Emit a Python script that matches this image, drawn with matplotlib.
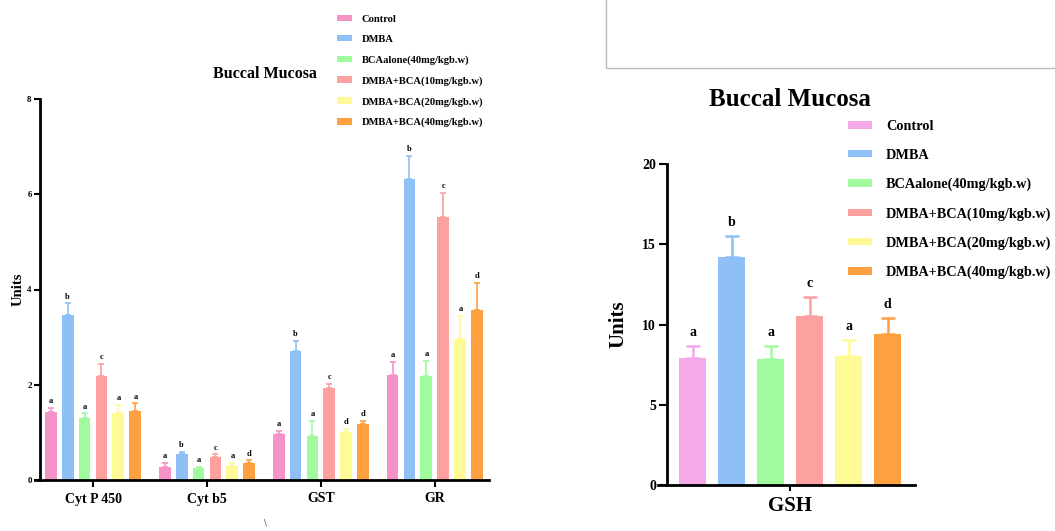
import numpy as np
import matplotlib
matplotlib.use('Agg')
import matplotlib.pyplot as plt
from matplotlib.patches import Patch
from matplotlib.lines import Line2D

# ---- data ----
groups = ['Control', 'DMBA', 'BCAalone(40mg/kgb.w)', 'DMBA+BCA(10mg/kgb.w)',
          'DMBA+BCA(20mg/kgb.w)', 'DMBA+BCA(40mg/kgb.w)']
enzymes = ['Cyt P 450', 'Cyt b5', 'GST', 'GR']
# rows = enzyme, cols = group
enz_mean = [[1.42, 3.46, 1.31, 2.19, 1.40, 1.45],
            [0.27, 0.54, 0.25, 0.49, 0.29, 0.35],
            [0.96, 2.71, 0.93, 1.94, 1.01, 1.17],
            [2.20, 6.32, 2.18, 5.53, 2.97, 3.58]]
enz_err = [[0.10, 0.25, 0.09, 0.25, 0.17, 0.16],
           [0.09, 0.05, 0.03, 0.05, 0.07, 0.06],
           [0.07, 0.21, 0.31, 0.07, 0.07, 0.07],
           [0.28, 0.49, 0.32, 0.50, 0.47, 0.56]]
enz_letters = [['a', 'b', 'a', 'c', 'a', 'a'],
               ['a', 'b', 'a', 'c', 'a', 'd'],
               ['a', 'b', 'a', 'c', 'd', 'd'],
               ['a', 'b', 'a', 'c', 'a', 'd']]
gsh_mean = [7.92, 14.2, 7.85, 10.5, 8.04, 9.40]
gsh_err = [0.75, 1.3, 0.82, 1.23, 1.0, 0.98]
gsh_letters = ['a', 'b', 'a', 'c', 'a', 'd']

left_colors = ['#F593C8', '#8FBFF7', '#A0FA9E', '#FCA0A0', '#FFFA96', '#FFA040']
right_colors = ['#F4A9E8', '#8FBFF7', '#A0FA9E', '#FCA0A0', '#FFFA96', '#FFA040']

serif = 'Liberation Serif'
W, H = 1055, 531
fig = plt.figure(figsize=(W / 100, H / 100), dpi=100)

def px_axes(x0, x1, ytop, ybot):
    return fig.add_axes([x0 / W, 1 - ybot / H, (x1 - x0) / W, (ybot - ytop) / H])

# ---- left chart ----
ax = px_axes(40, 489, 99, 480)
step = 0.149
bw = 0.105
for j in range(6):
    xs = np.arange(len(enzymes)) + (j - 2.5) * step
    vals = [enz_mean[i][j] for i in range(len(enzymes))]
    errs = [enz_err[i][j] for i in range(len(enzymes))]
    ax.bar(xs, vals, width=bw, color=left_colors[j], zorder=2)
    ax.errorbar(xs, vals, yerr=[np.zeros(len(errs)), errs], fmt='none',
                ecolor=left_colors[j], elinewidth=1.2, capsize=2.5, capthick=1.2, zorder=1)
    for i in range(len(enzymes)):
        ax.annotate(enz_letters[i][j], (xs[i], vals[i] + errs[i]), xytext=(0, 2),
                    textcoords='offset points', ha='center', va='bottom',
                    fontsize=6, fontweight='bold', family=serif)
ax.set_xlim(-0.465, 3.474)
ax.set_ylim(0, 8)
ax.spines['bottom'].set_bounds(-0.509, 3.474)
ax.set_yticks([0, 2, 4, 6, 8])
ax.set_xticks(range(len(enzymes)))
ax.set_xticklabels(enzymes, fontsize=10, fontweight='bold', family=serif)
for t in ax.get_yticklabels():
    t.set_fontsize(6.5)
    t.set_fontweight('bold')
    t.set_family(serif)
ax.spines['top'].set_visible(False)
ax.spines['right'].set_visible(False)
ax.spines['left'].set_linewidth(2)
ax.spines['bottom'].set_linewidth(2)
ax.tick_params(axis='y', width=1.5, length=4, pad=2)
ax.tick_params(axis='x', width=1.5, length=5, pad=4)
ax.set_ylabel('Units', fontsize=10.5, fontweight='bold', family=serif, labelpad=2)
fig.text(265 / W, 1 - 74 / H, 'Buccal Mucosa', ha='center', va='center',
         fontsize=11.5, fontweight='bold', family=serif)

h1 = [Patch(facecolor=c, edgecolor='none') for c in left_colors]
fig.legend(h1, groups, loc='upper left', bbox_to_anchor=(337 / W, 1 - 14.5 / H),
           frameon=False, borderpad=0, borderaxespad=0, labelspacing=1.07,
           handlelength=1.4, handleheight=0.55, handletextpad=0.95,
           prop={'family': serif, 'weight': 'bold', 'size': 7.6})

# ---- right chart ----
ax2 = px_axes(667, 915, 164, 485)
xr = np.arange(6) - 2.5
ax2.bar(xr, gsh_mean, width=0.667, color=right_colors, zorder=2)
for j in range(6):
    ax2.errorbar(xr[j], gsh_mean[j], yerr=[[0], [gsh_err[j]]], fmt='none',
                 ecolor=right_colors[j], elinewidth=1.8, capsize=5, capthick=1.8, zorder=1)
    ax2.annotate(gsh_letters[j], (xr[j], gsh_mean[j] + gsh_err[j]), xytext=(0, 5),
                 textcoords='offset points', ha='center', va='bottom',
                 fontsize=10, fontweight='bold', family=serif)
ax2.set_xlim(-3.154, 3.205)
ax2.set_ylim(0, 20)
ax2.spines['bottom'].set_bounds(-3.385, 3.205)
ax2.set_yticks([0, 5, 10, 15, 20])
ax2.set_xticks([0])
ax2.set_xticklabels(['GSH'], fontsize=15, fontweight='bold', family=serif)
for t in ax2.get_yticklabels():
    t.set_fontsize(10)
    t.set_fontweight('bold')
    t.set_family(serif)
ax2.spines['top'].set_visible(False)
ax2.spines['right'].set_visible(False)
ax2.spines['left'].set_linewidth(2)
ax2.spines['bottom'].set_linewidth(2)
ax2.tick_params(axis='y', width=1.5, length=6, pad=2)
ax2.tick_params(axis='x', width=1.5, length=4, pad=4)
ax2.set_ylabel('Units', fontsize=15, fontweight='bold', family=serif, labelpad=10)
fig.text(790 / W, 1 - 100 / H, 'Buccal Mucosa', ha='center', va='center',
         fontsize=18, fontweight='bold', family=serif)

h2 = [Patch(facecolor=c, edgecolor='none') for c in right_colors]
fig.legend(h2, groups, loc='upper left', bbox_to_anchor=(848 / W, 1 - 120 / H),
           frameon=False, borderpad=0, borderaxespad=0, labelspacing=1.11,
           handlelength=1.68, handleheight=0.42, handletextpad=0.98,
           prop={'family': serif, 'weight': 'bold', 'size': 10.3})

# frame lines at top right
fig.add_artist(Line2D([606 / W, 606 / W, 1.0], [1.0, 1 - 68 / H, 1 - 68 / H],
                      transform=fig.transFigure, color='#BBBBBB', lw=1))
fig.text(265 / W, 1 - 523 / H, '\\', ha='center', va='center', fontsize=6, color='#555555')

fig.savefig('out.png', dpi=100)
